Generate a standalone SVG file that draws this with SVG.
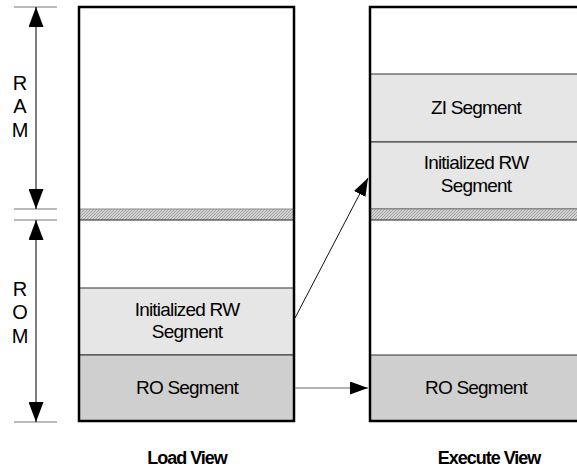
<svg xmlns="http://www.w3.org/2000/svg" width="577" height="469" viewBox="0 0 577 469">
<style>
.box{fill:none;stroke:#000;stroke-width:2.5}
.seg{stroke:#333;stroke-width:1}
.light{fill:#e6e6e6}
.dark{fill:#cfcfcf}
.ext{stroke:#777;stroke-width:1}
.dim{stroke:#000;stroke-width:1}
.t{font-family:"Liberation Sans",Arial,sans-serif;font-size:19px;letter-spacing:-0.8px;fill:#000;text-anchor:middle}
.lbl{font-family:"Liberation Sans",Arial,sans-serif;font-size:18px;font-weight:bold;letter-spacing:-1px;fill:#000;text-anchor:middle}
.vl{font-family:"Liberation Sans",Arial,sans-serif;font-size:20px;fill:#000;text-anchor:middle}
</style>
<defs>
<pattern id="hatch" width="3" height="3" patternUnits="userSpaceOnUse">
<rect width="3" height="3" fill="#d0d0d0"/>
<path d="M0 3L3 0M-1 1L1 -1M2 4L4 2" stroke="#9a9a9a" stroke-width="0.8"/>
</pattern>
<marker id="big" markerWidth="20" markerHeight="15" refX="20" refY="7.5" orient="auto-start-reverse" markerUnits="userSpaceOnUse" viewBox="0 0 20 15">
<path d="M0 0L20 7.5L0 15z" fill="#000"/>
</marker>
<marker id="ah" markerWidth="18" markerHeight="13" refX="18" refY="6.5" orient="auto" markerUnits="userSpaceOnUse" viewBox="0 0 18 13">
<path d="M0 0L18 6.5L0 13z" fill="#000"/>
</marker>
</defs>

<g id="load-view">
<rect class="light seg" x="79" y="288" width="215" height="67"/>
<rect class="dark seg" x="79" y="355" width="215" height="66"/>
<rect x="79" y="209" width="215" height="11" fill="url(#hatch)"/>
<line x1="79" y1="209" x2="294" y2="209" stroke="#888" stroke-width="1"/>
<line x1="79" y1="220" x2="294" y2="220" stroke="#222" stroke-width="1"/>
<rect class="box" x="79" y="7" width="215" height="414"/>
<text class="t" x="187" y="316">Initialized RW</text>
<text class="t" x="187" y="338">Segment</text>
<text class="t" x="187" y="394">RO Segment</text>
<text class="lbl" x="187" y="464">Load View</text>
</g>

<g id="execute-view">
<rect class="light seg" x="370" y="74" width="210" height="68"/>
<rect class="light seg" x="370" y="142" width="210" height="67"/>
<rect class="dark seg" x="370" y="355" width="210" height="66"/>
<rect x="370" y="209" width="210" height="11" fill="url(#hatch)"/>
<line x1="370" y1="209" x2="580" y2="209" stroke="#888" stroke-width="1"/>
<line x1="370" y1="220" x2="580" y2="220" stroke="#222" stroke-width="1"/>
<rect class="box" x="370" y="7" width="220" height="414"/>
<text class="t" x="476" y="114">ZI Segment</text>
<text class="t" x="476" y="169">Initialized RW</text>
<text class="t" x="476" y="192">Segment</text>
<text class="t" x="476" y="394">RO Segment</text>
<text class="lbl" x="489" y="464">Execute View</text>
</g>

<g id="ram-dimension">
<line class="ext" x1="14" y1="7" x2="57" y2="7"/>
<line class="ext" x1="14" y1="209" x2="57" y2="209"/>
<line class="dim" x1="36" y1="7" x2="36" y2="209" marker-start="url(#big)" marker-end="url(#big)"/>
<text class="vl" x="20" y="90">R</text>
<text class="vl" x="20" y="113">A</text>
<text class="vl" x="20" y="137">M</text>
</g>

<g id="rom-dimension">
<line class="ext" x1="14" y1="220" x2="57" y2="220"/>
<line class="ext" x1="14" y1="422" x2="57" y2="422"/>
<line class="dim" x1="36" y1="220" x2="36" y2="422" marker-start="url(#big)" marker-end="url(#big)"/>
<text class="vl" x="20" y="296">R</text>
<text class="vl" x="20" y="319">O</text>
<text class="vl" x="20" y="343">M</text>
</g>

<g id="connectors">
<line x1="295" y1="318" x2="368" y2="178" stroke="#111" stroke-width="1" marker-end="url(#ah)"/>
<line x1="295" y1="388" x2="368" y2="388" stroke="#666" stroke-width="1.2" marker-end="url(#ah)"/>
</g>
</svg>
